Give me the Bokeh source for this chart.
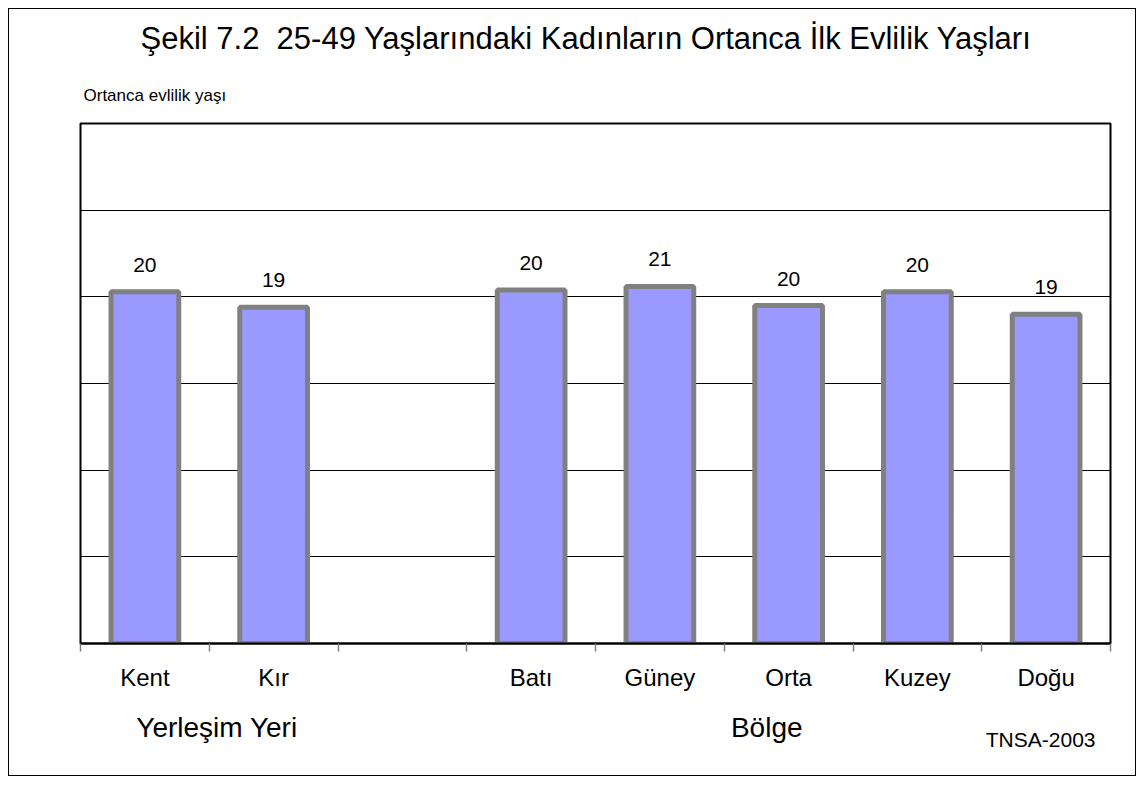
from bokeh.plotting import figure
from bokeh.models import Range1d, FixedTicker, Title, ColumnDataSource, LabelSet, LinearAxis
from bokeh.core.properties import value
from bokeh.embed import file_html
from bokeh.resources import INLINE

# ---- data ----
title_text = "Şekil 7.2\u00a0 25-49 Yaşlarındaki Kadınların Ortanca İlk Evlilik Yaşları"
y_label = "Ortanca evlilik yaşı"
slots = ["Kent", "Kır", "", "Batı", "Güney", "Orta", "Kuzey", "Doğu"]
values = [20.3, 19.4, None, 20.4, 20.6, 19.5, 20.3, 19.0]
groups = ["Yerleşim Yeri", "Bölge"]
group_centers = [1.06, 5.33]
source_note = "TNSA-2003"
y_ticks = [0, 5, 10, 15, 20, 25, 30]

FONT = "Liberation Sans"

xs = [i + 0.5 for i, v in enumerate(values) if v is not None]
vs = [v for v in values if v is not None]
labels = [f"{int(v + 0.5)}" for v in vs]
src = ColumnDataSource(dict(x=xs, top=vs, label=labels))

p = figure(width=1128, height=768, output_backend="svg", toolbar_location=None,
           x_range=Range1d(0, len(slots)), y_range=Range1d(y_ticks[0], y_ticks[-1]),
           min_border_left=71, min_border_right=27, min_border_top=114, min_border_bottom=134)
p.styles = {"border": "1px solid black", "margin": "8px"}
p.background_fill_color = "white"
p.border_fill_color = "white"
p.outline_line_color = "black"
p.outline_line_width = 2

p.yaxis.visible = False
p.xgrid.visible = False
p.ygrid.ticker = FixedTicker(ticks=y_ticks)
p.ygrid.grid_line_color = "black"
p.ygrid.grid_line_width = 1

p.vbar(x="x", top="top", bottom=0, width=0.526, source=src,
       fill_color="#9999FF", line_color="#808080", line_width=5)

ls = LabelSet(x="x", y="top", text="label", source=src, text_align="center",
              text_baseline="alphabetic", y_offset=20, text_font=value(FONT),
              text_font_size=value("21px"), text_color="black")
p.add_layout(ls)

ax = p.xaxis[0]
ax.ticker = FixedTicker(ticks=[i + 0.5 for i in range(len(slots))],
                        minor_ticks=list(range(len(slots) + 1)))
ax.major_label_overrides = {i + 0.5: s for i, s in enumerate(slots)}
ax.axis_line_color = "black"
ax.axis_line_width = 2
ax.major_tick_line_color = None
ax.major_tick_out = 0
ax.major_tick_in = 0
ax.minor_tick_line_color = "#808080"
ax.minor_tick_line_width = 1.5
ax.minor_tick_out = 8
ax.minor_tick_in = 0
ax.major_label_standoff = 12
ax.major_label_text_font = FONT
ax.major_label_text_font_size = "24px"
ax.major_label_text_color = "black"

gax = LinearAxis(ticker=FixedTicker(ticks=group_centers, minor_ticks=[]))
gax.major_label_overrides = {c: g for c, g in zip(group_centers, groups)}
gax.axis_line_color = None
gax.major_tick_line_color = None
gax.minor_tick_line_color = None
gax.major_tick_out = 0
gax.major_tick_in = 0
gax.major_label_standoff = 18
gax.major_label_text_font = FONT
gax.major_label_text_font_size = "28px"
gax.major_label_text_color = "black"
p.add_layout(gax, "below")

note = Title(text=source_note, align="right", offset=15, text_font=FONT,
             text_font_size="21px", text_font_style="normal", text_color="black",
             vertical_align="top", standoff=-36)
p.add_layout(note, "below")

p.title.text = title_text
p.title.align = "left"
p.title.offset = 60
p.title.text_font = FONT
p.title.text_font_size = "31px"
p.title.text_font_style = "normal"
p.title.text_color = "black"
p.title.standoff = 19

sub = Title(text=y_label, align="left", offset=3, text_font=FONT,
            text_font_size="17px", text_font_style="normal", text_color="black",
            standoff=37)
p.add_layout(sub, "above")

open("out.html", "w").write(file_html(p, INLINE))
